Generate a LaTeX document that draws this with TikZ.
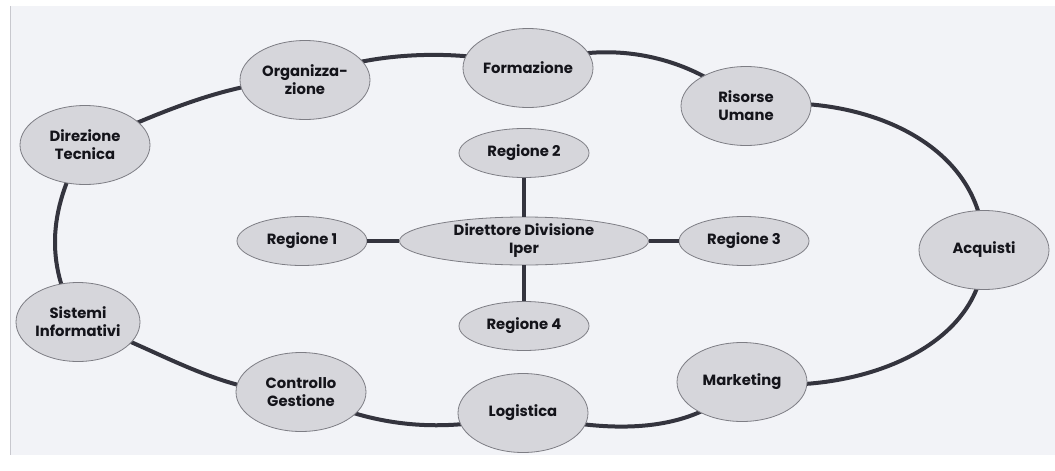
\documentclass[tikz,border=0pt]{standalone}
\usepackage{fontspec}
\setmainfont{Poppins}
\usepackage{tikz}
\usetikzlibrary{shapes,backgrounds}
\usepackage{xcolor}
\definecolor{dfpage}{RGB}{242,243,247}
\definecolor{dfframe}{RGB}{200,200,206}
\definecolor{dfnode}{RGB}{214,214,219}
\definecolor{dfborder}{RGB}{125,125,132}
\definecolor{dfline}{RGB}{52,52,62}
\definecolor{dftext}{RGB}{20,20,26}
\tikzstyle{unit} = [ellipse, draw=dfborder, fill=dfnode, thick, inner sep=0pt, align=center, text=dftext, font=\bfseries\fontsize{14.8}{18}\selectfont]
\tikzstyle{ringunit} = [unit, minimum width=130pt, minimum height=79pt]
\tikzstyle{regunit} = [unit, minimum width=130pt, minimum height=49pt]
\tikzstyle{link} = [line width=4pt, color=dfline]

\begin{document}
\begin{tikzpicture}[x=1pt, y=-1pt]
    \useasboundingbox (0,0) rectangle (1055,471);

    % Ring of functions
    \node[ringunit] (dirtec) at (85,145) {Direzione\\Tecnica};
    \node[ringunit] (org) at (305,80) {Organizza-\\zione};
    \node[ringunit] (form) at (528,68) {Formazione};
    \node[ringunit] (risum) at (746,106) {Risorse\\Umane};
    \node[ringunit] (acq) at (984,250) {Acquisti};
    \node[ringunit] (mkt) at (742,382) {Marketing};
    \node[ringunit] (logi) at (523,413) {Logistica};
    \node[ringunit] (ctrl) at (301,392) {Controllo\\Gestione};
    \node[ringunit, minimum width=124pt] (sisinf) at (78,322) {Sistemi\\Informativi};

    % Division and regions
    \node[unit, minimum width=249pt, minimum height=48pt] (dir) at (524,241) {Direttore Divisione\\Iper};
    \node[regunit] (reg1) at (302,241) {Regione 1};
    \node[regunit] (reg2) at (524,153) {Regione 2};
    \node[regunit] (reg3) at (744,241) {Regione 3};
    \node[regunit] (reg4) at (524,326) {Regione 4};

    \draw[link] (reg1) -- (dir);
    \draw[link] (dir) -- (reg3);
    \draw[link] (reg2) -- (dir);
    \draw[link] (dir) -- (reg4);

    \begin{scope}[on background layer]
        % Page
        \fill[dfpage] (10,6) rectangle (1055,455);
        \draw[dfframe] (10,6) -- (10,455);
        % Ring line
        \draw[link] (dirtec.center)
            .. controls +(60,-25) and +(-80,0) .. (org.center)
            .. controls +(60,-30) and +(-60,-20) .. (form.center)
            .. controls +(70,-30) and +(-60,-55) .. (risum.center)
            .. controls +(110,-15) and +(0,-110) .. (acq.center)
            .. controls +(0,100) and +(110,15) .. (mkt.center)
            .. controls +(-50,55) and +(80,20) .. (logi.center)
            .. controls +(-80,22) and +(70,35) .. (ctrl.center)
            .. controls +(-80,5) and +(70,20) .. (sisinf.center)
            .. controls +(-35,-60) and +(-35,60) .. (dirtec.center);
    \end{scope}
\end{tikzpicture}
\end{document}
